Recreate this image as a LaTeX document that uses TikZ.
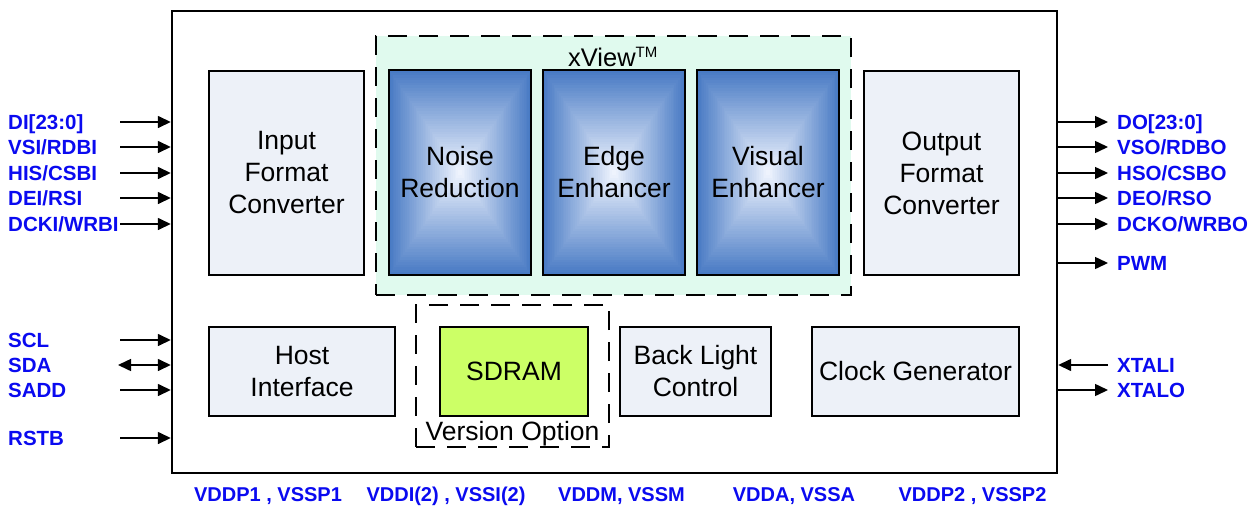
\documentclass[tikz,border=0pt]{standalone}
\usepackage{fontspec}
\setmainfont{Liberation Sans}
\usetikzlibrary{arrows.meta,calc}
\definecolor{pinblue}{RGB}{10,10,240}
\definecolor{boxfill}{RGB}{237,241,248}
\definecolor{mint}{RGB}{224,250,238}
\definecolor{sdram}{RGB}{204,255,102}
\definecolor{xblue}{RGB}{72,122,196}
\definecolor{xwhite}{RGB}{242,246,255}
\newcommand\blockfont{\fontsize{26.5}{32}\selectfont}
\newcommand\pinfont{\fontsize{20.5}{24}\selectfont\bfseries}
\newcommand\railfont{\fontsize{20}{24}\selectfont\bfseries}
\tikzset{
 chipbox/.style={draw, line width=2.4pt, fill=white, minimum width=885pt, minimum height=462pt, inner sep=0pt},
 lightbox/.style={draw, line width=1.8pt, fill=boxfill, inner sep=0pt, align=center, font=\blockfont},
 xblock/.style={draw, line width=1.8pt, inner sep=0pt, align=center, font=\blockfont,
   minimum width=142pt, minimum height=205pt,
   path picture={
     \foreach \k in {0,...,40}{
       \pgfmathsetmacro\f{1-\k/40}
       \pgfmathsetmacro\p{100*\f}
       \fill[xblue!\p!xwhite]
         ($(path picture bounding box.center)!\f!(path picture bounding box.south west)$)
         rectangle
         ($(path picture bounding box.center)!\f!(path picture bounding box.north east)$);
     }}},
 dashbox/.style={draw, line width=2.4pt, dash pattern=on 19pt off 12pt, inner sep=0pt},
 pinlbl/.style={font=\pinfont, text=pinblue, inner sep=0pt},
 raillbl/.style={font=\railfont, text=pinblue, inner sep=0pt},
 sig/.style={line width=1.5pt, -{Triangle[length=13pt,width=12pt]}},
 sigboth/.style={line width=1.5pt, {Triangle[length=13pt,width=12pt]}-{Triangle[length=13pt,width=12pt]}},
}
\begin{document}
\begin{tikzpicture}[x=1pt,y=-1pt]
\useasboundingbox (0,0) rectangle (1256,509);
\fill[white] (0,0) rectangle (1256,509);

% chip outline
\node[chipbox] (chip) at (614.5,242) {};

% group frames
\node[dashbox, fill=mint, minimum width=475pt, minimum height=259pt] (xview) at (613.5,165.5) {};
\node[dashbox, minimum width=193pt, minimum height=142pt] (verbox) at (512.5,376) {};
\node[inner sep=0pt, font=\fontsize{25.5}{30}\selectfont] (xviewlbl) at (613,57) {xView\textsuperscript{\fontsize{15}{18}\selectfont TM}};
\node[inner sep=0pt, font=\blockfont] (verlbl) at (512.5,434) {Version Option};

% blocks
\node[lightbox, minimum width=155pt, minimum height=204pt] (ifc) at (286.5,173) {Input\\Format\\Converter};
\node[xblock] (nr) at (460,172.5) {Noise\\Reduction};
\node[xblock] (ee) at (614,172.5) {Edge\\Enhancer};
\node[xblock] (ve) at (768,172.5) {Visual\\Enhancer};
\node[lightbox, minimum width=155pt, minimum height=204pt] (ofc) at (941.5,173) {Output\\Format\\Converter};
\node[lightbox, minimum width=186pt, minimum height=89pt] (host) at (302,371.5) {Host\\Interface};
\node[lightbox, fill=sdram, minimum width=148pt, minimum height=89pt] (sdram) at (514,371.5) {SDRAM};
\node[lightbox, minimum width=151pt, minimum height=89pt] (blc) at (695.5,371.5) {Back Light\\Control};
\node[lightbox, minimum width=207pt, minimum height=89pt] (clk) at (915.5,371.5) {Clock Generator};

% left pins
\foreach \nm/\txt/\yy in {di/{DI[23:0]}/122, vsi/{VSI/RDBI}/147, hsi/{HIS/CSBI}/173, dei/{DEI/RSI}/198, dcki/{DCKI/WRBI}/224, scl/{SCL}/340, sadd/{SADD}/390, rstb/{RSTB}/438}{
  \node[pinlbl, anchor=base west] (l\nm) at (8,\yy+7.5) {\txt};
  \coordinate (ls\nm) at (120,\yy);
  \draw[sig] (ls\nm) -- (chip.west |- ls\nm);
}
\node[pinlbl, anchor=base west] (lsda) at (8,372.5) {SDA};
\coordinate (lssda) at (118,365);
\draw[sigboth] (lssda) -- (chip.west |- lssda);

% right pins
\foreach \nm/\txt/\yy in {do/{DO[23:0]}/122, vso/{VSO/RDBO}/147, hso/{HSO/CSBO}/173, deo/{DEO/RSO}/198, dcko/{DCKO/WRBO}/224, pwm/{PWM}/263, xtalo/{XTALO}/390}{
  \node[pinlbl, anchor=base west] (r\nm) at (1117,\yy+7.5) {\txt};
  \coordinate (rs\nm) at (1108,\yy);
  \draw[sig] (chip.east |- rs\nm) -- (rs\nm);
}
\node[pinlbl, anchor=base west] (rxtali) at (1117,372.5) {XTALI};
\coordinate (rsxtali) at (1108,365);
\draw[sig] (rsxtali) -- (chip.east |- rsxtali);

% supply rails
\node[raillbl] (p1) at (268,496) {VDDP1 , VSSP1};
\node[raillbl] (p2) at (446,496) {VDDI(2) , VSSI(2)};
\node[raillbl] (p3) at (621.5,496) {VDDM, VSSM};
\node[raillbl] (p4) at (794,496) {VDDA, VSSA};
\node[raillbl] (p5) at (972.5,496) {VDDP2 , VSSP2};
\end{tikzpicture}
\end{document}
